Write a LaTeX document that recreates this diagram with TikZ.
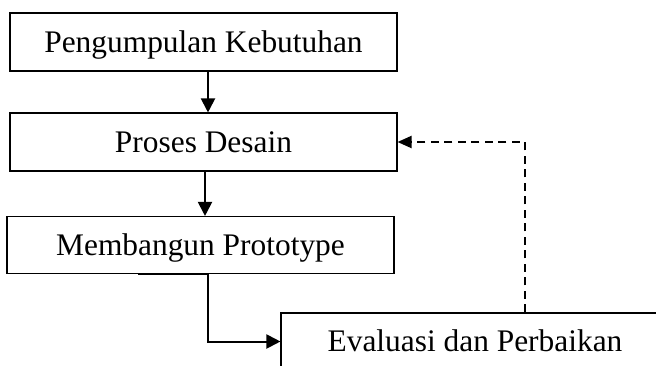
\documentclass[tikz,border=0pt]{standalone}
\usepackage{fontspec}
\setmainfont{Liberation Serif}
\usetikzlibrary{arrows.meta,calc}

\tikzset{
  stage/.style={draw=black, line width=1.1pt, rectangle, inner sep=0pt,
    minimum width=387pt, minimum height=58pt,
    text height=20.8pt, text depth=0pt,
    font=\fontsize{31.4}{36}\selectfont},
  flow/.style={line width=2pt, -{Triangle[length=14pt,width=14pt]}},
  feedback/.style={line width=2pt, dash pattern=on 8pt off 5.5pt,
    -{Triangle[length=14pt,width=12pt]}}
}

\begin{document}
\begin{tikzpicture}[x=1pt,y=-1pt]
  \useasboundingbox (0,0) rectangle (656,365);
  \clip (0,0) rectangle (656,365);

  \node[stage] (b1) at (203.5,42)  {Pengumpulan Kebutuhan};
  \node[stage] (b2) at (203.5,142) {Proses Desain};
  \node[stage, minimum height=57pt] (b3) at (200.5,245) {Membangun Prototype};
  \node[stage, minimum width=388pt, minimum height=57pt] (b4) at (475,341.5) {Evaluasi dan Perbaikan};

  % main flow
  \draw[flow] ([xshift=4.5pt]b1.south) -- ([xshift=4.5pt]b2.north);
  \draw[flow] ([xshift=1.5pt]b2.south) -- ([xshift=4.5pt]b3.north);
  \draw[flow] ([xshift=-62.5pt]b3.south) -- ([xshift=7.5pt]b3.south) |- (b4.west);

  % feedback loop back to the design stage
  \coordinate (fb) at ([xshift=50pt]b4.north);
  \draw[feedback] (fb) |- (b2.east);
\end{tikzpicture}
\end{document}
